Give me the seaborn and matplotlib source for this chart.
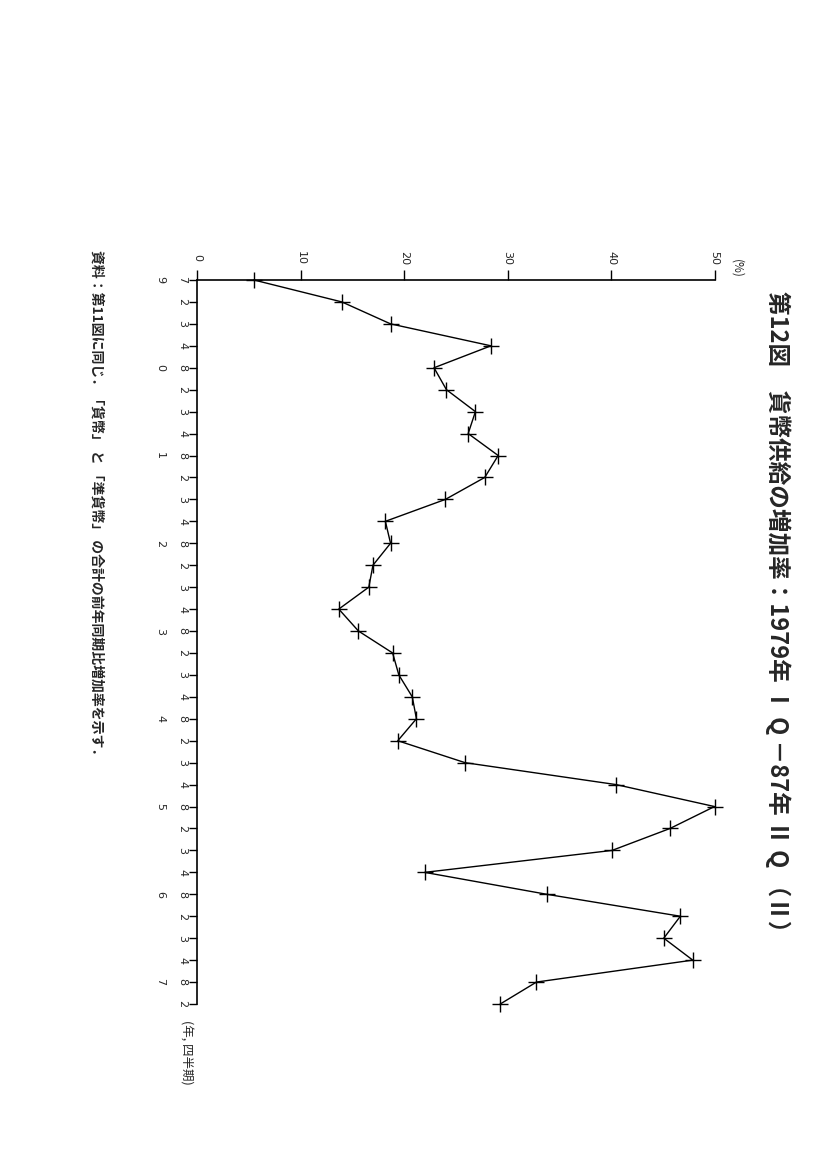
import numpy as np
import pandas as pd
import seaborn as sns
import matplotlib
matplotlib.use("Agg")
import matplotlib.pyplot as plt
from matplotlib.transforms import blended_transform_factory

# ---- data -------------------------------------------------------------
years = ["79", "80", "81", "82", "83", "84", "85", "86", "87"]
quarters_per_year = [4, 4, 4, 4, 4, 4, 4, 4, 2]
growth = [
    5.5, 14.0, 18.7, 28.4,      # 1979
    22.9, 24.1, 26.9, 26.2,     # 1980
    29.1, 27.8, 24.0, 18.2,     # 1981
    18.7, 17.0, 16.6, 13.7,     # 1982
    15.6, 18.9, 19.5, 20.8,     # 1983
    21.2, 19.4, 25.9, 40.5,     # 1984
    50.0, 45.7, 40.1, 22.0,     # 1985
    33.8, 46.7, 45.1, 47.9,     # 1986
    32.8, 29.3,                 # 1987
]
value_ticks = [0, 10, 20, 30, 40, 50]
title = "第12図　貨幣供給の増加率：1979年 Ⅰ Q －87年 Ⅱ Q （Ⅱ）"
note = "資料：第11図に同じ．「貨幣」 と 「準貨幣」 の合計の前年同期比増加率を示す．"
unit_label = "(%)"
time_label = "(年, 四半期)"

# ---- build table ------------------------------------------------------
inner_labels, outer_labels = [], []
for y, nq in zip(years, quarters_per_year):
    for q in range(1, nq + 1):
        if q == 1:
            inner_labels.append(y[0])
            outer_labels.append(y[1])
        else:
            inner_labels.append(str(q))
            outer_labels.append("")
df = pd.DataFrame({"pos": np.arange(len(growth)), "growth": growth})

# ---- style ------------------------------------------------------------
sns.set_style("ticks")
plt.rcParams["font.family"] = ["Noto Sans CJK JP", "DejaVu Sans"]

W, H = 827, 1170
fig = plt.figure(figsize=(W / 100, H / 100), dpi=100)
x0, x50 = 197, 714.5
y_top, y_bot = 280, 1004
ax = fig.add_axes([x0 / W, 1 - y_bot / H, (x50 - x0) / W, (y_bot - y_top) / H])

sns.lineplot(data=df, x="growth", y="pos", sort=False, estimator=None,
             orient="y", color="black", lw=1.0, marker="+", markersize=11,
             markeredgewidth=1.0, markeredgecolor="black", ax=ax,
             clip_on=False)

ax.set_xlim(0, 50)
ax.set_ylim(len(growth) - 1, 0)
ax.set_xlabel("")
ax.set_ylabel("")
for s in ["right", "bottom"]:
    ax.spines[s].set_visible(False)
for s in ["left", "top"]:
    ax.spines[s].set_linewidth(1.2)
    ax.spines[s].set_color("black")

ax.xaxis.tick_top()
ax.set_xticks(value_ticks)
ax.set_xticklabels([])
ax.tick_params(axis="x", direction="out", length=7, width=1, colors="black")
ax.set_yticks(df["pos"])
ax.set_yticklabels([])
ax.tick_params(axis="y", direction="out", length=6, width=1, colors="black")

# value tick labels (rotated page)
for v in value_ticks:
    fig.text((x0 + v * (x50 - x0) / 50) / W, 1 - 258 / H, str(v),
             rotation=-90, ha="center", va="center", fontsize=8,
             family="DejaVu Sans")

# time tick labels: inner (quarter / tens digit) and outer (units digit)
trans = blended_transform_factory(fig.transFigure, ax.transData)
for p, (a, b) in enumerate(zip(inner_labels, outer_labels)):
    fig.text(182 / W, p, a, transform=trans, rotation=-90, ha="center",
             va="center", fontsize=8, family="DejaVu Sans")
    if b:
        ax.text(160 / W, p, b, transform=trans, rotation=-90, ha="center",
                va="center", fontsize=8, family="DejaVu Sans")

fig.text(737 / W, 1 - 268 / H, unit_label, rotation=-90, ha="center",
         va="center", fontsize=8.5)
fig.text(186 / W, 1 - 1020 / H, time_label, rotation=-90, ha="center",
         va="top", fontsize=9)
fig.text(778 / W, 1 - 291 / H, title, rotation=-90, ha="center", va="top",
         fontsize=17, fontweight="bold")
fig.text(96 / W, 1 - 250 / H, note, rotation=-90, ha="center", va="top",
         fontsize=10, fontweight="bold")

fig.savefig("out.png", dpi=100, facecolor="white")
